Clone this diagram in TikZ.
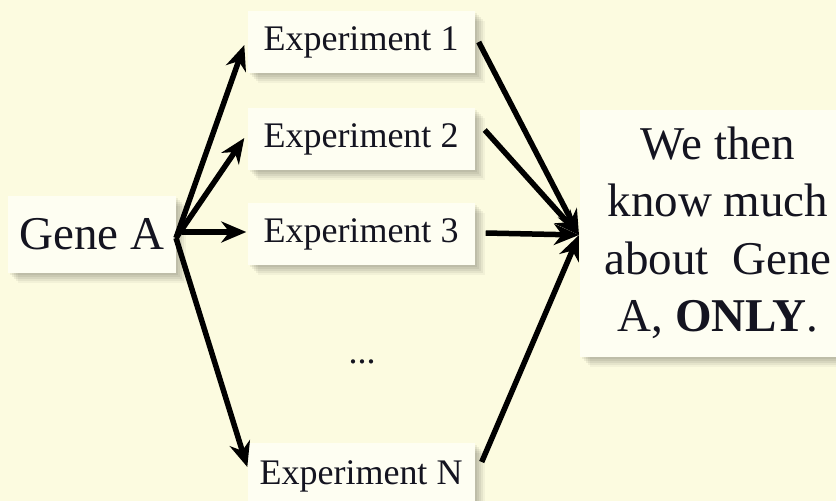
\documentclass[tikz,border=0pt]{standalone}
\usepackage{fontspec}
\setmainfont{Liberation Serif}
\usetikzlibrary{arrows.meta,shadows}
\definecolor{paper}{RGB}{252,251,224}
\definecolor{card}{RGB}{254,254,242}
\definecolor{ink}{RGB}{20,20,32}
\tikzset{
  softshadow/.style={
    general shadow={fill=black,opacity=0.06,shadow xshift=2pt,shadow yshift=-2pt},
    general shadow={fill=black,opacity=0.06,shadow xshift=4pt,shadow yshift=-4pt},
    general shadow={fill=black,opacity=0.06,shadow xshift=6pt,shadow yshift=-6pt},
    general shadow={fill=black,opacity=0.05,shadow xshift=8pt,shadow yshift=-8pt},
    general shadow={fill=black,opacity=0.04,shadow xshift=10pt,shadow yshift=-10pt},
  },
  card/.style={softshadow,fill=card,inner sep=0pt,align=center,text=ink},
  expbox/.style={card,minimum width=227pt,minimum height=62pt,
    font=\fontsize{36}{42}\selectfont},
  bigbox/.style={card,font=\fontsize{47}{57.5}\selectfont},
  arr/.style={line width=5.5pt,draw=black,
    -{Stealth[length=25pt,width=21pt,inset=8pt]}},
}
\begin{document}
\begin{tikzpicture}[x=1pt,y=-1pt]
  \useasboundingbox (0,0) rectangle (836,501);
  \fill[paper] (0,0) rectangle (836,501);

  % source and experiments
  \node[bigbox,minimum width=168pt,minimum height=77pt] (gene) at (92,234) {Gene A};
  \node[expbox] (e1) at (361,42)  {Experiment 1};
  \node[expbox] (e2) at (361,139) {Experiment 2};
  \node[expbox] (e3) at (361,234) {Experiment 3};
  \node[expbox,minimum height=66pt] (eN) at (361,476) {Experiment N};
  \node[text=ink,font=\fontsize{36}{42}\selectfont] (dots) at (362,362) {...};

  % conclusion
  \node[bigbox,minimum width=276pt,minimum height=247pt] (res) at (718,233)
    {We then\\know much\\about\ \ Gene\\A, \textbf{ONLY}.};

  % fan-out from the gene
  \coordinate (g0) at (176,238);
  \coordinate (g3) at (182,232);
  \draw[arr] (g0) -- ([shift={(-3,3)}]e1.west);
  \draw[arr] (g0) -- ([shift={(-3,-1)}]e2.west);
  \draw[arr] (g3) -- ([shift={(-1,-2)}]e3.west);
  \draw[arr] (g0) -- ([shift={(0,-9)}]eN.west);

  % fan-in to the conclusion
  \coordinate (r0) at (579,235);
  \draw[arr] ([shift={(4,0)}]e1.east) -- (r0);
  \draw[arr] ([shift={(10,-9)}]e2.east) -- (r0);
  \draw[arr] ([shift={(11,-1)}]e3.east) -- (r0);
  \draw[arr] ([shift={(7,-14)}]eN.east) -- (r0);
\end{tikzpicture}
\end{document}
